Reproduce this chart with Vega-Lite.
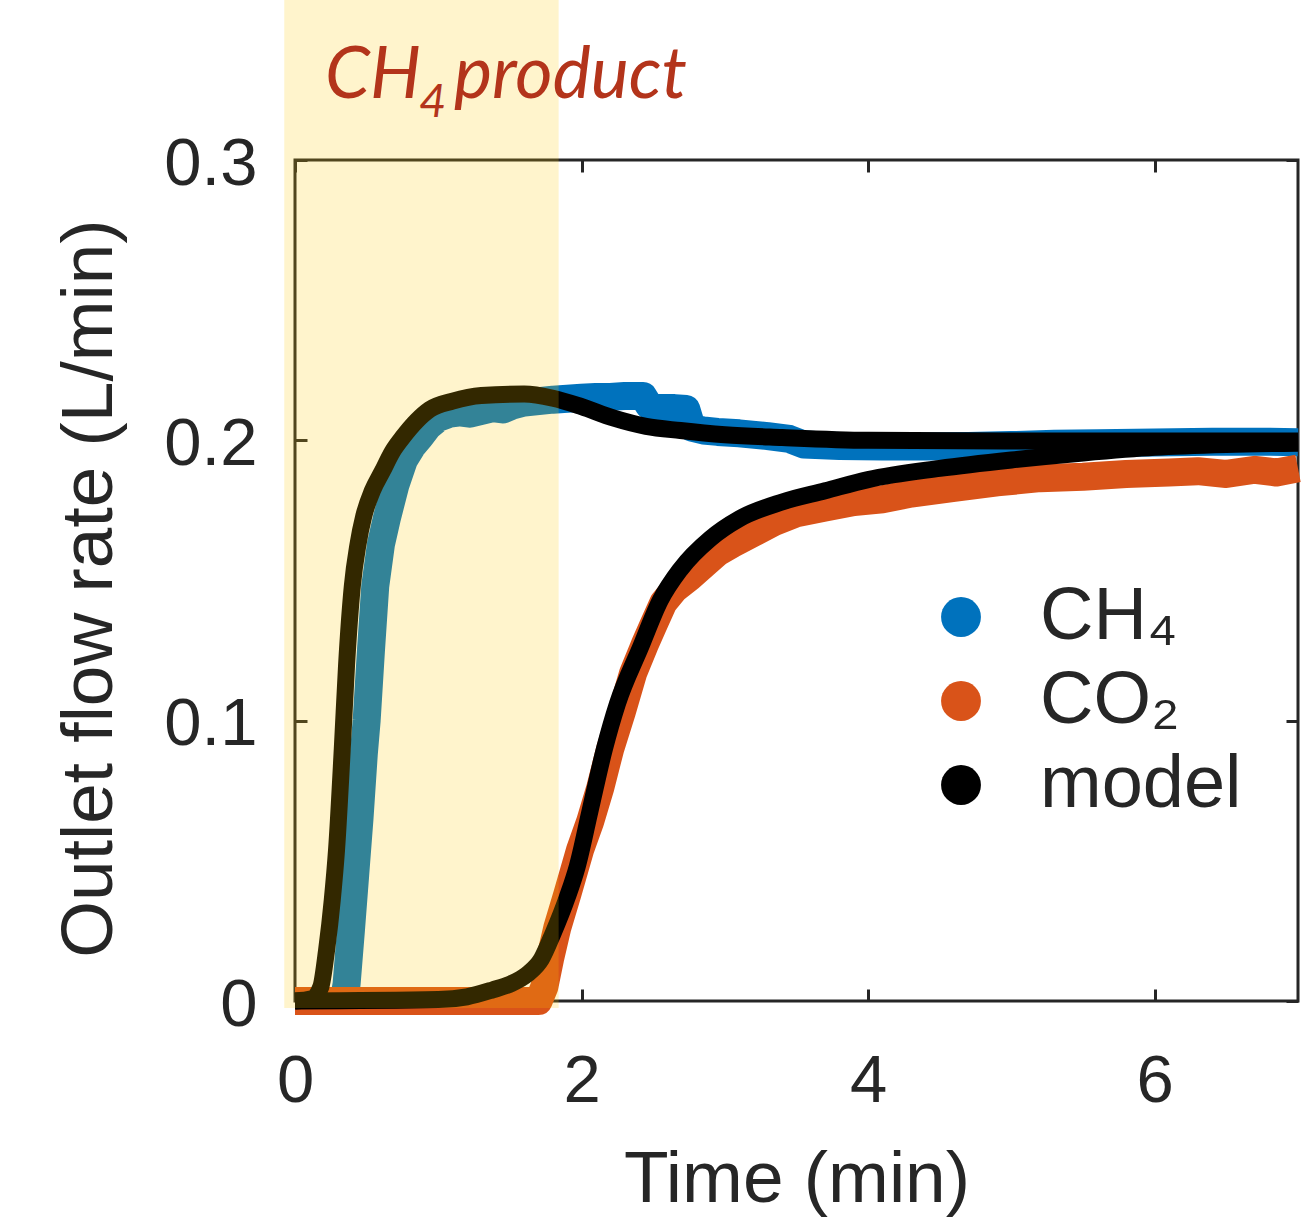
{
  "$schema": "https://vega.github.io/schema/vega-lite/v6.json",
  "width": 1003,
  "height": 841,
  "autosize": "none",
  "padding": {"left": 295, "top": 160, "right": 18, "bottom": 217},
  "background": "white",
  "config": {
    "view": {"stroke": "#262626", "strokeWidth": 3},
    "font": "Liberation Sans",
    "axis": {
      "domain": false,
      "grid": false,
      "ticks": true,
      "tickSize": -12,
      "tickWidth": 3,
      "tickColor": "#262626",
      "labelFont": "Liberation Sans",
      "labelFontSize": 67,
      "labelColor": "#262626",
      "labelFlush": false,
      "titleFont": "Liberation Sans",
      "titleFontSize": 73,
      "titleFontWeight": "normal",
      "titleColor": "#262626"
    }
  },
  "datasets": {
    "ch4": [
      {"t": 0, "q": 0, "series": "CH4"}, {"t": 0.1, "q": 0, "series": "CH4"}, {"t": 0.2, "q": 0, "series": "CH4"},
      {"t": 0.3, "q": 0, "series": "CH4"}, {"t": 0.34, "q": 0, "series": "CH4"}, {"t": 0.36, "q": 0.006, "series": "CH4"},
      {"t": 0.39, "q": 0.025, "series": "CH4"}, {"t": 0.42, "q": 0.045, "series": "CH4"}, {"t": 0.45, "q": 0.065, "series": "CH4"},
      {"t": 0.48, "q": 0.088, "series": "CH4"}, {"t": 0.5, "q": 0.1, "series": "CH4"}, {"t": 0.53, "q": 0.125, "series": "CH4"},
      {"t": 0.56, "q": 0.148, "series": "CH4"}, {"t": 0.6, "q": 0.163, "series": "CH4"}, {"t": 0.64, "q": 0.172, "series": "CH4"},
      {"t": 0.7, "q": 0.184, "series": "CH4"}, {"t": 0.76, "q": 0.193, "series": "CH4"}, {"t": 0.82, "q": 0.198, "series": "CH4"},
      {"t": 0.87, "q": 0.201, "series": "CH4"}, {"t": 0.93, "q": 0.205, "series": "CH4"}, {"t": 1.0, "q": 0.208, "series": "CH4"},
      {"t": 1.08, "q": 0.2095, "series": "CH4"}, {"t": 1.15, "q": 0.21, "series": "CH4"}, {"t": 1.22, "q": 0.2095, "series": "CH4"},
      {"t": 1.3, "q": 0.2105, "series": "CH4"}, {"t": 1.38, "q": 0.2115, "series": "CH4"}, {"t": 1.45, "q": 0.211, "series": "CH4"},
      {"t": 1.52, "q": 0.2125, "series": "CH4"}, {"t": 1.6, "q": 0.2135, "series": "CH4"}, {"t": 1.7, "q": 0.214, "series": "CH4"},
      {"t": 1.8, "q": 0.2145, "series": "CH4"}, {"t": 1.9, "q": 0.2148, "series": "CH4"}, {"t": 2.0, "q": 0.2152, "series": "CH4"},
      {"t": 2.1, "q": 0.2155, "series": "CH4"}, {"t": 2.2, "q": 0.2155, "series": "CH4"}, {"t": 2.3, "q": 0.2158, "series": "CH4"},
      {"t": 2.43, "q": 0.2158, "series": "CH4"}, {"t": 2.47, "q": 0.2125, "series": "CH4"}, {"t": 2.55, "q": 0.2115, "series": "CH4"},
      {"t": 2.65, "q": 0.2115, "series": "CH4"}, {"t": 2.73, "q": 0.2112, "series": "CH4"}, {"t": 2.77, "q": 0.2045, "series": "CH4"},
      {"t": 2.85, "q": 0.2035, "series": "CH4"}, {"t": 2.95, "q": 0.203, "series": "CH4"}, {"t": 3.1, "q": 0.2025, "series": "CH4"},
      {"t": 3.3, "q": 0.2015, "series": "CH4"}, {"t": 3.45, "q": 0.2005, "series": "CH4"}, {"t": 3.55, "q": 0.1985, "series": "CH4"},
      {"t": 3.8, "q": 0.198, "series": "CH4"}, {"t": 4.1, "q": 0.1978, "series": "CH4"}, {"t": 4.4, "q": 0.1978, "series": "CH4"},
      {"t": 4.7, "q": 0.198, "series": "CH4"}, {"t": 5.0, "q": 0.1983, "series": "CH4"}, {"t": 5.3, "q": 0.1988, "series": "CH4"},
      {"t": 5.6, "q": 0.199, "series": "CH4"}, {"t": 6.0, "q": 0.1992, "series": "CH4"}, {"t": 6.4, "q": 0.1995, "series": "CH4"},
      {"t": 6.8, "q": 0.1995, "series": "CH4"}, {"t": 7.0, "q": 0.1993, "series": "CH4"}
    ],
    "co2": [
      {"t": 0, "q": 0, "series": "CO2"}, {"t": 0.5, "q": 0, "series": "CO2"}, {"t": 1.0, "q": 0, "series": "CO2"},
      {"t": 1.5, "q": 0, "series": "CO2"}, {"t": 1.7, "q": 0, "series": "CO2"}, {"t": 1.74, "q": 0.005, "series": "CO2"},
      {"t": 1.78, "q": 0.015, "series": "CO2"}, {"t": 1.83, "q": 0.026, "series": "CO2"}, {"t": 1.9, "q": 0.038, "series": "CO2"},
      {"t": 1.99, "q": 0.054, "series": "CO2"}, {"t": 2.06, "q": 0.064, "series": "CO2"}, {"t": 2.13, "q": 0.076, "series": "CO2"},
      {"t": 2.2, "q": 0.09, "series": "CO2"}, {"t": 2.28, "q": 0.103, "series": "CO2"}, {"t": 2.36, "q": 0.117, "series": "CO2"},
      {"t": 2.44, "q": 0.127, "series": "CO2"}, {"t": 2.5, "q": 0.134, "series": "CO2"}, {"t": 2.57, "q": 0.142, "series": "CO2"},
      {"t": 2.65, "q": 0.147, "series": "CO2"}, {"t": 2.75, "q": 0.151, "series": "CO2"}, {"t": 2.86, "q": 0.156, "series": "CO2"},
      {"t": 2.95, "q": 0.16, "series": "CO2"}, {"t": 3.05, "q": 0.163, "series": "CO2"}, {"t": 3.2, "q": 0.167, "series": "CO2"},
      {"t": 3.35, "q": 0.171, "series": "CO2"}, {"t": 3.5, "q": 0.174, "series": "CO2"}, {"t": 3.7, "q": 0.176, "series": "CO2"},
      {"t": 3.9, "q": 0.178, "series": "CO2"}, {"t": 4.1, "q": 0.179, "series": "CO2"}, {"t": 4.3, "q": 0.181, "series": "CO2"},
      {"t": 4.6, "q": 0.183, "series": "CO2"}, {"t": 4.9, "q": 0.185, "series": "CO2"}, {"t": 5.2, "q": 0.1865, "series": "CO2"},
      {"t": 5.5, "q": 0.187, "series": "CO2"}, {"t": 5.8, "q": 0.188, "series": "CO2"}, {"t": 6.1, "q": 0.1885, "series": "CO2"},
      {"t": 6.3, "q": 0.189, "series": "CO2"}, {"t": 6.5, "q": 0.188, "series": "CO2"}, {"t": 6.7, "q": 0.1895, "series": "CO2"},
      {"t": 6.85, "q": 0.1885, "series": "CO2"}, {"t": 7.0, "q": 0.19, "series": "CO2"}
    ],
    "model": [
      {"t": 0, "q": 0, "series": "model", "curve": "CH4"}, {"t": 0.12, "q": 0.0008, "series": "model", "curve": "CH4"},
      {"t": 0.18, "q": 0.005, "series": "model", "curve": "CH4"}, {"t": 0.22, "q": 0.018, "series": "model", "curve": "CH4"},
      {"t": 0.26, "q": 0.036, "series": "model", "curve": "CH4"}, {"t": 0.29, "q": 0.054, "series": "model", "curve": "CH4"},
      {"t": 0.33, "q": 0.09, "series": "model", "curve": "CH4"}, {"t": 0.36, "q": 0.12, "series": "model", "curve": "CH4"},
      {"t": 0.4, "q": 0.148, "series": "model", "curve": "CH4"}, {"t": 0.44, "q": 0.163, "series": "model", "curve": "CH4"},
      {"t": 0.48, "q": 0.173, "series": "model", "curve": "CH4"}, {"t": 0.54, "q": 0.182, "series": "model", "curve": "CH4"},
      {"t": 0.61, "q": 0.189, "series": "model", "curve": "CH4"}, {"t": 0.68, "q": 0.196, "series": "model", "curve": "CH4"},
      {"t": 0.75, "q": 0.201, "series": "model", "curve": "CH4"}, {"t": 0.85, "q": 0.207, "series": "model", "curve": "CH4"},
      {"t": 0.94, "q": 0.211, "series": "model", "curve": "CH4"}, {"t": 1.1, "q": 0.214, "series": "model", "curve": "CH4"},
      {"t": 1.3, "q": 0.216, "series": "model", "curve": "CH4"}, {"t": 1.6, "q": 0.2165, "series": "model", "curve": "CH4"},
      {"t": 1.8, "q": 0.215, "series": "model", "curve": "CH4"}, {"t": 2.0, "q": 0.212, "series": "model", "curve": "CH4"},
      {"t": 2.22, "q": 0.208, "series": "model", "curve": "CH4"}, {"t": 2.45, "q": 0.205, "series": "model", "curve": "CH4"},
      {"t": 2.69, "q": 0.2035, "series": "model", "curve": "CH4"}, {"t": 3.0, "q": 0.202, "series": "model", "curve": "CH4"},
      {"t": 3.4, "q": 0.201, "series": "model", "curve": "CH4"}, {"t": 4.0, "q": 0.2, "series": "model", "curve": "CH4"},
      {"t": 5.0, "q": 0.1998, "series": "model", "curve": "CH4"}, {"t": 7.0, "q": 0.1998, "series": "model", "curve": "CH4"},
      {"t": 0, "q": 0, "series": "model", "curve": "CO2"}, {"t": 1.0, "q": 0.0005, "series": "model", "curve": "CO2"},
      {"t": 1.2, "q": 0.0015, "series": "model", "curve": "CO2"}, {"t": 1.38, "q": 0.004, "series": "model", "curve": "CO2"},
      {"t": 1.5, "q": 0.006, "series": "model", "curve": "CO2"}, {"t": 1.62, "q": 0.0095, "series": "model", "curve": "CO2"},
      {"t": 1.72, "q": 0.015, "series": "model", "curve": "CO2"}, {"t": 1.8, "q": 0.024, "series": "model", "curve": "CO2"},
      {"t": 1.9, "q": 0.037, "series": "model", "curve": "CO2"}, {"t": 1.97, "q": 0.048, "series": "model", "curve": "CO2"},
      {"t": 2.06, "q": 0.068, "series": "model", "curve": "CO2"}, {"t": 2.16, "q": 0.09, "series": "model", "curve": "CO2"},
      {"t": 2.25, "q": 0.106, "series": "model", "curve": "CO2"}, {"t": 2.41, "q": 0.126, "series": "model", "curve": "CO2"},
      {"t": 2.55, "q": 0.143, "series": "model", "curve": "CO2"}, {"t": 2.69, "q": 0.154, "series": "model", "curve": "CO2"},
      {"t": 2.9, "q": 0.165, "series": "model", "curve": "CO2"}, {"t": 3.1, "q": 0.172, "series": "model", "curve": "CO2"},
      {"t": 3.4, "q": 0.178, "series": "model", "curve": "CO2"}, {"t": 3.7, "q": 0.182, "series": "model", "curve": "CO2"},
      {"t": 4.0, "q": 0.186, "series": "model", "curve": "CO2"}, {"t": 4.5, "q": 0.19, "series": "model", "curve": "CO2"},
      {"t": 5.0, "q": 0.193, "series": "model", "curve": "CO2"}, {"t": 5.5, "q": 0.1955, "series": "model", "curve": "CO2"},
      {"t": 6.0, "q": 0.1975, "series": "model", "curve": "CO2"}, {"t": 6.5, "q": 0.1985, "series": "model", "curve": "CO2"},
      {"t": 7.0, "q": 0.199, "series": "model", "curve": "CO2"}
    ],
    "shade": [{"t0": -0.075, "t1": 1.84, "q0": -0.0025, "q1": 0.36}],
    "note": [{"t": 0.209, "q": 0.3222}]
  },
  "resolve": {"axis": {"x": "independent", "y": "independent"}},
  "layer": [
    {
      "data": {"name": "ch4"},
      "mark": {"type": "line", "strokeWidth": 28, "strokeCap": "butt", "strokeJoin": "round"},
      "encoding": {
        "x": {"field": "t", "type": "quantitative", "scale": {"domain": [0, 7], "nice": false},
          "axis": {"orient": "bottom", "values": [0, 2, 4, 6], "title": "Time (min)", "labelPadding": 59, "titlePadding": 29}},
        "y": {"field": "q", "type": "quantitative", "scale": {"domain": [0, 0.3], "nice": false, "zero": false},
          "axis": {"orient": "left", "values": [0, 0.1, 0.2, 0.3], "format": "~g", "title": "Outlet flow rate (L/min)", "labelPadding": 50, "labelOffset": 4, "titlePadding": 37, "titleY": 428}},
        "color": {"field": "series", "type": "nominal",
          "scale": {"domain": ["CH4", "CO2", "model"], "range": ["#0072BD", "#D95319", "#000000"]},
          "legend": {
            "orient": "none", "legendX": 629, "legendY": 420, "title": null, "padding": 0,
            "symbolType": "circle", "symbolSize": 1590, "symbolStrokeWidth": 0, "symbolOpacity": 1,
            "labelFont": "Liberation Sans", "labelFontSize": 74, "labelColor": "#262626", "labelOffset": 42,
            "labelLimit": 600, "rowPadding": 10,
            "labelExpr": "datum.label == 'CH4' ? 'CH₄' : datum.label == 'CO2' ? 'CO₂' : datum.label",
            "encode": {"symbols": {"update": {"fill": {"scale": "color", "field": "value"}, "stroke": {"value": "transparent"}}}}
          }}
      }
    },
    {
      "data": {"name": "co2"},
      "mark": {"type": "line", "strokeWidth": 28, "strokeCap": "butt", "strokeJoin": "round"},
      "encoding": {
        "x": {"field": "t", "type": "quantitative", "scale": {"domain": [0, 7], "nice": false}, "axis": null},
        "y": {"field": "q", "type": "quantitative", "scale": {"domain": [0, 0.3], "nice": false, "zero": false}, "axis": null},
        "color": {"field": "series", "type": "nominal"}
      }
    },
    {
      "data": {"name": "model"},
      "mark": {"type": "line", "strokeWidth": 17, "strokeCap": "butt", "strokeJoin": "round", "interpolate": "monotone"},
      "encoding": {
        "x": {"field": "t", "type": "quantitative", "scale": {"domain": [0, 7], "nice": false}, "axis": null},
        "y": {"field": "q", "type": "quantitative", "scale": {"domain": [0, 0.3], "nice": false, "zero": false}, "axis": null},
        "color": {"field": "series", "type": "nominal"},
        "detail": {"field": "curve", "type": "nominal"}
      }
    },
    {
      "data": {"name": "shade"},
      "mark": {"type": "rect", "fill": "#FFC800", "opacity": 0.2, "clip": false},
      "encoding": {
        "x": {"field": "t0", "type": "quantitative", "scale": {"domain": [0, 7], "nice": false},
          "axis": {"orient": "top", "values": [0, 2, 4, 6], "labels": false, "title": null}},
        "x2": {"field": "t1"},
        "y": {"field": "q0", "type": "quantitative", "scale": {"domain": [0, 0.3], "nice": false, "zero": false},
          "axis": {"orient": "right", "values": [0, 0.1, 0.2, 0.3], "labels": false, "title": null}},
        "y2": {"field": "q1"}
      }
    },
    {
      "data": {"name": "note"},
      "mark": {"type": "text", "text": "CH", "font": "Lato", "fontStyle": "italic", "fontSize": 72, "color": "#B3341B", "align": "left", "baseline": "alphabetic"},
      "encoding": {
        "x": {"field": "t", "type": "quantitative", "scale": {"domain": [0, 7], "nice": false}, "axis": null},
        "y": {"field": "q", "type": "quantitative", "scale": {"domain": [0, 0.3], "nice": false, "zero": false}, "axis": null}
      }
    },
    {
      "data": {"name": "note"},
      "mark": {"type": "text", "text": "4", "font": "Lato", "fontStyle": "italic", "fontSize": 47, "color": "#B3341B", "align": "left", "baseline": "alphabetic", "dx": 94, "dy": 19},
      "encoding": {
        "x": {"field": "t", "type": "quantitative", "scale": {"domain": [0, 7], "nice": false}, "axis": null},
        "y": {"field": "q", "type": "quantitative", "scale": {"domain": [0, 0.3], "nice": false, "zero": false}, "axis": null}
      }
    },
    {
      "data": {"name": "note"},
      "mark": {"type": "text", "text": "product", "font": "Lato", "fontStyle": "italic", "fontSize": 72, "color": "#B3341B", "align": "left", "baseline": "alphabetic", "dx": 129},
      "encoding": {
        "x": {"field": "t", "type": "quantitative", "scale": {"domain": [0, 7], "nice": false}, "axis": null},
        "y": {"field": "q", "type": "quantitative", "scale": {"domain": [0, 0.3], "nice": false, "zero": false}, "axis": null}
      }
    }
  ]
}
